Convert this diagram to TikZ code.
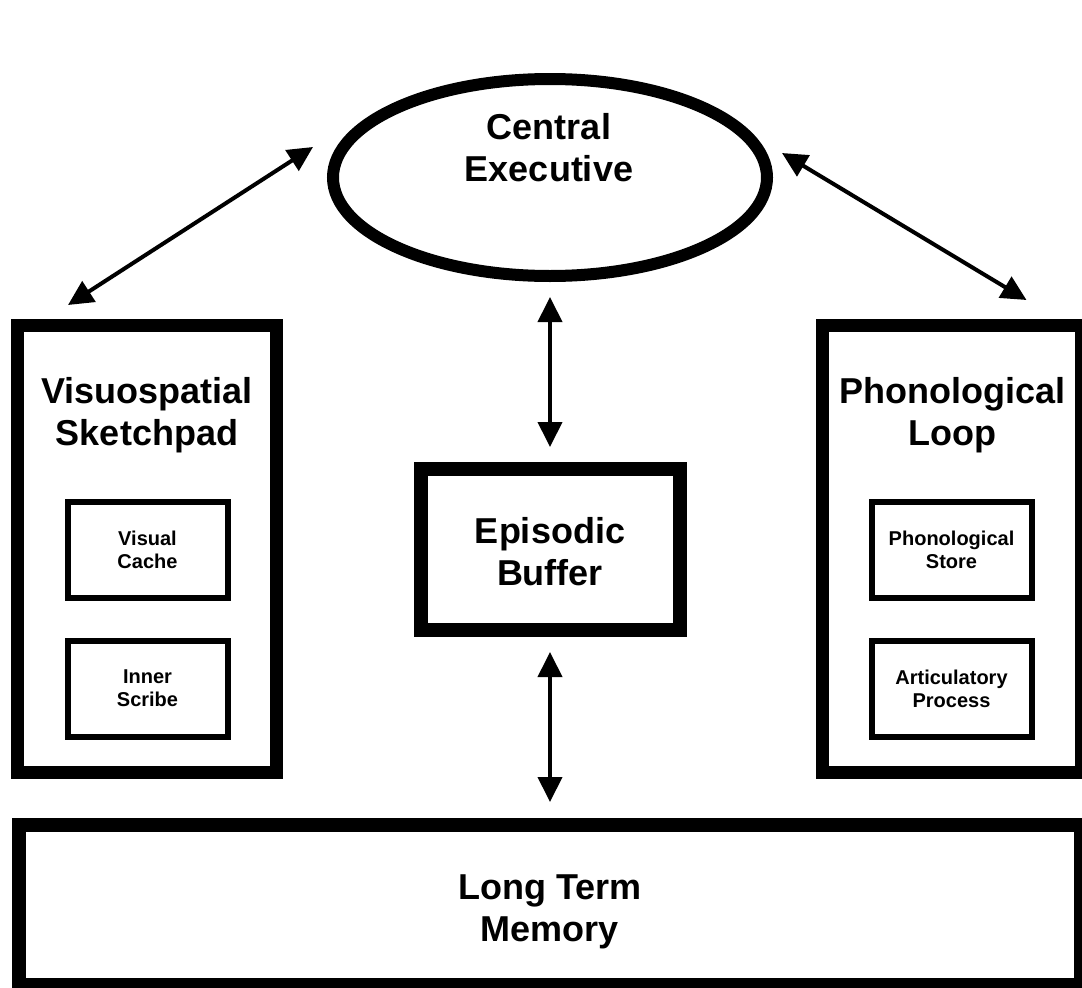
\documentclass[tikz,border=0pt]{standalone}
\usepackage{fontspec}
\setmainfont{Liberation Sans}
\usetikzlibrary{arrows.meta,shapes.geometric}

\begin{document}
\begin{tikzpicture}[x=1pt,y=-1pt,
    bigbox/.style={draw,line width=13pt,minimum width=259pt,minimum height=447pt,inner sep=0},
    subbox/.style={draw,line width=6pt,minimum width=160pt,minimum height=96pt,inner sep=0,
        align=center,font=\fontsize{20}{23}\selectfont\bfseries},
    boxtitle/.style={anchor=north,inner sep=0,align=center,font=\fontsize{36}{42}\selectfont\bfseries},
    link/.style={{Triangle[length=25pt,width=24pt]}-{Triangle[length=25pt,width=24pt]},line width=4pt}]
            \path[use as bounding box,fill=white] (0,0) rectangle (1082,988);
            \node[draw,ellipse,line width=12pt,minimum width=434pt,minimum height=197pt,inner sep=0] (ce) at (550,177.5) {};
            \node[boxtitle] (celabel) at (549,113) {Central\\Executive};
            \node[bigbox] (vss) at (147,549) {};
            \node[boxtitle] (vsslabel) at (147,377) {Visuospatial\\Sketchpad};
            \node[subbox] (vc) at (147.5,549.5) {Visual\\Cache};
            \node[subbox] (is) at (147.5,688.5) {Inner\\Scribe};
            \node[bigbox] (pl) at (951.5,549) {};
            \node[boxtitle] (pllabel) at (952,377) {Phonological\\Loop};
            \node[subbox] (ps) at (951.5,550) {Phonological\\Store};
            \node[subbox] (ap) at (951.5,688.5) {Articulatory\\Process};
            \node[boxtitle] (eblabel) at (550,517) {Episodic\\Buffer};
            \node[draw,line width=14pt,minimum width=259pt,minimum height=161pt] (eb) at (550,549.5) {};
            \node[draw,line width=14pt,minimum width=1062pt,minimum height=160pt] (ltm) at (550,905) {};
            \node[boxtitle] (ltmlabel) at (550,875) {Long Term\\Memory};
            \draw[link,shorten <=15pt,shorten >=15pt] (ce.south) -- (eb.north);
            \draw[link,shorten <=15pt,shorten >=16pt] (eb.south) -- (ltm.north);
            \draw[link] ([shift={(-14,-30.5)}]ce.west) -- ([shift={(57,-14)}]vss.north west);
            \draw[link] ([shift={(9,-24.5)}]ce.east) -- ([shift={(-61,-19)}]pl.north east);
        \end{tikzpicture}
\end{document}
